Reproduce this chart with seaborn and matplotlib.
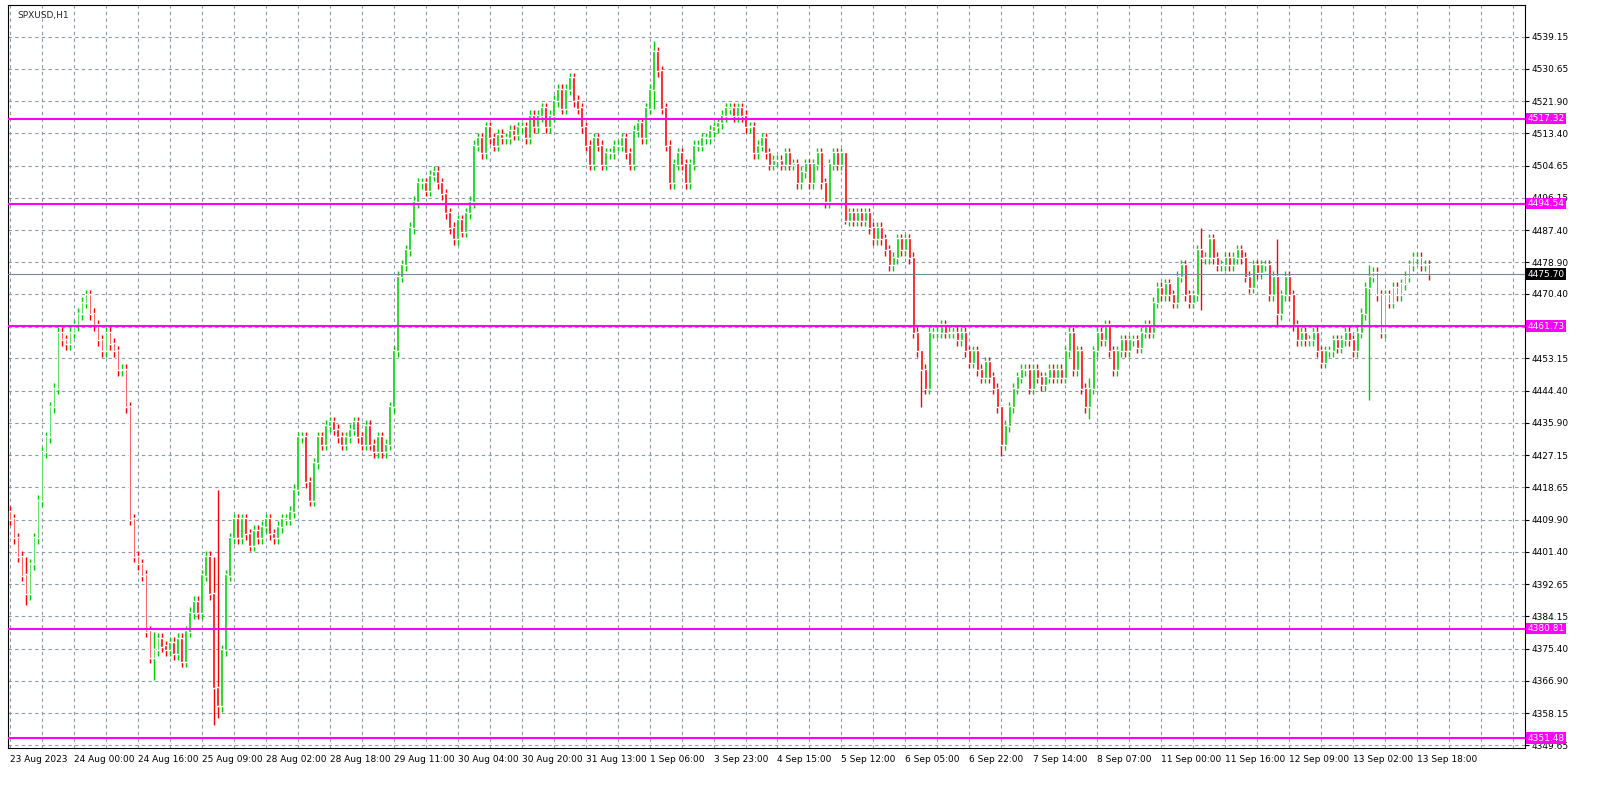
import matplotlib

matplotlib.use("Agg")
import matplotlib.pyplot as plt
import numpy as np
import seaborn as sns

# closes per H1 bar
closes = [
    4410, 4405, 4400, 4395, 4390, 4398, 4405, 4415, 4428, 4432, 4440, 4445, 4460, 4458, 4457, 4460,
    4462, 4465, 4468, 4470, 4465, 4462, 4458, 4455, 4460, 4457, 4455, 4450, 4450, 4440, 4410, 4400,
    4398, 4395, 4380, 4373, 4375, 4378, 4376, 4375, 4377, 4374, 4378, 4372, 4380, 4385, 4388, 4385,
    4395, 4400, 4390, 4365, 4360, 4375, 4395, 4405, 4410, 4405, 4410, 4406, 4403, 4407, 4405, 4408,
    4410, 4406, 4405, 4408, 4410, 4410, 4412, 4418, 4432, 4432, 4420, 4415, 4425, 4432, 4430, 4435,
    4436, 4434, 4432, 4430, 4432, 4434, 4436, 4432, 4430, 4435, 4430, 4428, 4432, 4428, 4430, 4440,
    4455, 4475, 4478, 4482, 4488, 4495, 4500, 4500, 4498, 4502, 4503, 4500, 4497, 4492, 4488, 4485,
    4490, 4487, 4492, 4495, 4510, 4512, 4508, 4515, 4512, 4510, 4513, 4512, 4512, 4514, 4513, 4515,
    4515, 4512, 4518, 4515, 4518, 4520, 4515, 4518, 4522, 4525, 4520, 4525, 4528, 4522, 4520, 4515,
    4510, 4505, 4512, 4510, 4505, 4508, 4508, 4510, 4510, 4512, 4508, 4505, 4514, 4516, 4512, 4520,
    4525, 4535, 4530, 4520, 4510, 4500, 4505, 4508, 4505, 4500, 4505, 4510, 4510, 4512, 4512, 4514,
    4515, 4516, 4518, 4520, 4520, 4518, 4520, 4518, 4515, 4515, 4508, 4510, 4512, 4508, 4505, 4506,
    4506, 4505, 4508, 4505, 4505, 4500, 4503, 4505, 4500, 4505, 4508, 4500, 4495, 4505, 4508, 4505,
    4508, 4490, 4492, 4490, 4492, 4490, 4492, 4488, 4485, 4488, 4485, 4482, 4478, 4480, 4485, 4482,
    4485, 4480, 4460, 4455, 4450, 4445, 4460, 4460, 4460, 4462, 4460, 4460, 4460, 4458, 4460, 4455,
    4452, 4455, 4450, 4448, 4452, 4448, 4445, 4440, 4430, 4435, 4440, 4445, 4448, 4450, 4450, 4445,
    4450, 4448, 4446, 4448, 4450, 4448, 4450, 4448, 4455, 4460, 4450, 4455, 4445, 4440, 4445, 4455,
    4460, 4458, 4462, 4455, 4450, 4455, 4458, 4455, 4458, 4458, 4456, 4460, 4462, 4460, 4468, 4472,
    4470, 4473, 4470, 4468, 4475, 4478, 4470, 4468, 4470, 4482, 4480, 4480, 4485, 4480, 4478, 4478,
    4480, 4478, 4480, 4482, 4480, 4475, 4472, 4478, 4476, 4478, 4478, 4470, 4475, 4465, 4470, 4475,
    4470, 4462, 4458, 4460, 4458, 4458, 4460, 4455, 4452, 4455, 4455, 4458, 4456, 4458, 4460, 4458,
    4455, 4460, 4465, 4472, 4475, 4476, 4470, 4460, 4470, 4468, 4472, 4470, 4473, 4475, 4478, 4480,
    4480, 4478, 4478, 4475.70,
]
first_open = 4412
wick = 1.5
# a few long wicks visible on the chart: bar -> (high, low)
spikes = {4: (4400, 4387), 36: (4380, 4367), 51: (4400, 4355), 52: (4418, 4357), 161: (4538, 4520),
          209: (4508, 4489), 228: (4452, 4440), 248: (4440, 4427), 270: (4448, 4437), 298: (4488, 4466),
          317: (4485, 4462), 340: (4478, 4442)}

price_ticks = [4539.15, 4530.65, 4521.90, 4513.40, 4504.65, 4496.15, 4487.40, 4478.90, 4470.40,
               4461.65, 4453.15, 4444.40, 4435.90, 4427.15, 4418.65, 4409.90, 4401.40, 4392.65,
               4384.15, 4375.40, 4366.90, 4358.15, 4349.65]
levels = [4517.32, 4494.54, 4461.73, 4380.81, 4351.48]
last_price = 4475.70
time_labels = ["23 Aug 2023", "24 Aug 00:00", "24 Aug 16:00", "25 Aug 09:00", "28 Aug 02:00",
               "28 Aug 18:00", "29 Aug 11:00", "30 Aug 04:00", "30 Aug 20:00", "31 Aug 13:00",
               "1 Sep 06:00", "3 Sep 23:00", "4 Sep 15:00", "5 Sep 12:00", "6 Sep 05:00",
               "6 Sep 22:00", "7 Sep 14:00", "8 Sep 07:00", "11 Sep 00:00", "11 Sep 16:00",
               "12 Sep 09:00", "13 Sep 02:00", "13 Sep 18:00"]

sns.set_style("white")
plt.rcParams["font.family"] = ["DejaVu Sans"]

c = np.array(closes, dtype=float)
o = np.concatenate([[first_open], c[:-1]])
hi = np.maximum(o, c) + wick
lo = np.minimum(o, c) - wick
for i, (h, l) in spikes.items():
    hi[i], lo[i] = h, l
x = np.arange(len(c))
up = c >= o

fig = plt.figure(figsize=(16.09, 7.86), dpi=100)
ax = fig.add_axes([8 / 1609, 1 - 748 / 786, (1525 - 8) / 1609, (748 - 5) / 786])
ax.set_xlim(-0.5, 379)
ax.set_ylim(4348.85, 4547.7)

for p in price_ticks:
    ax.axhline(p, color="#8c9aa8", lw=0.8, ls=(0, (3, 3)), zorder=0)
for b in range(0, 400, 8):
    ax.axvline(b, color="#8c9aa8", lw=0.8, ls=(0, (3, 3)), zorder=0)

col = np.where(up, "#00d000", "#ff0000")
ax.vlines(x, lo, hi, colors=col, lw=1, zorder=2)
ax.bar(x, np.abs(c - o) + 0.3, bottom=np.minimum(o, c), width=0.7, color=col, zorder=3)

for lv in levels:
    ax.axhline(lv, color="#ff00ff", lw=1.5, zorder=4)
    ax.annotate(f"{lv:.2f}", xy=(1, lv), xycoords=("axes fraction", "data"), xytext=(2, 0),
                textcoords="offset points", va="center", ha="left", fontsize=6.5, color="white",
                bbox=dict(boxstyle="square,pad=0.15", fc="#ff00ff", ec="none"), annotation_clip=False)
ax.axhline(last_price, color="#7a8a99", lw=0.8, zorder=4)
ax.annotate(f"{last_price:.2f}", xy=(1, last_price), xycoords=("axes fraction", "data"), xytext=(2, 0),
            textcoords="offset points", va="center", ha="left", fontsize=6.5, color="white",
            bbox=dict(boxstyle="square,pad=0.15", fc="black", ec="none"), annotation_clip=False)

ax.yaxis.tick_right()
ax.set_yticks(price_ticks)
ax.set_yticklabels(["" if p == 4461.65 else f"{p:.2f}" for p in price_ticks], fontsize=6.5)
ax.set_xticks(range(0, 16 * len(time_labels), 16))
ax.set_xticklabels(time_labels, fontsize=6.5, ha="left")
ax.tick_params(length=3, pad=2, colors="black")
for s in ax.spines.values():
    s.set_color("black")
    s.set_linewidth(0.8)
ax.text(0.006, 0.992, "SPXUSD,H1", transform=ax.transAxes, fontsize=6.5, va="top")

fig.savefig("out.png", dpi=100)
